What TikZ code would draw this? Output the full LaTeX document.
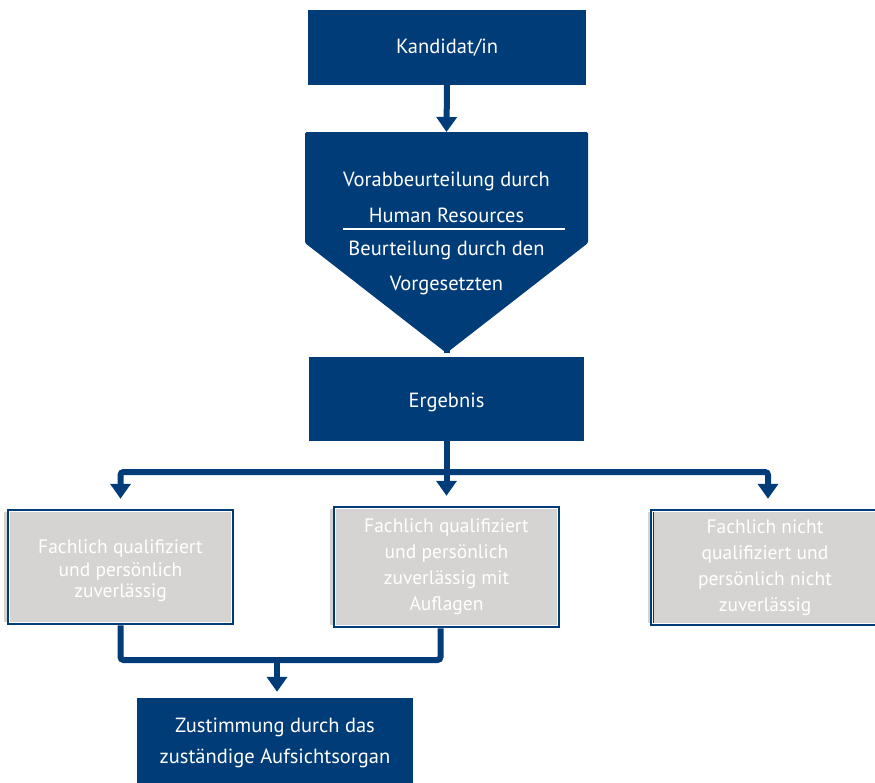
\documentclass[tikz,border=0pt]{standalone}
\usepackage{fontspec}
\setmainfont{PT Sans}
\usetikzlibrary{arrows.meta,calc,backgrounds}
\definecolor{dbblue}{RGB}{0,60,120}
\definecolor{boxgray}{RGB}{214,212,210}

\begin{document}
\begin{tikzpicture}[x=1pt,y=-1pt,
  txt/.style={font=\fontsize{20.5}{25}\selectfont},
  gtxt/.style={font=\fontsize{19.5}{25}\selectfont},
  bluebox/.style={txt, fill=dbblue, text=white, inner sep=0pt, align=center},
  graybox/.style={gtxt, fill=boxgray, draw=dbblue, line width=3.5pt, text=white,
                  inner sep=0pt, align=center},
  graylabel/.style={gtxt, text=white, align=center, inner sep=0pt},
  conn/.style={draw=dbblue, line width=6pt, rounded corners=3pt},
  arr/.style={conn, -{Triangle[width=20pt,length=15pt]}}]

\useasboundingbox (0,0) rectangle (875,782);
\clip (0,0) rectangle (875,782);

% top box
\node[bluebox, minimum width=278pt, minimum height=75pt] (kand) at (447,47.5) {Kandidat/in};

% assessment pentagon
\coordinate (ptop) at (446.5,132);
\coordinate (ptip) at (446.5,353);
\fill[dbblue, rounded corners=1.5pt] (305,132) -- (588,132) -- (588,243) -- (ptip) -- (305,243) -- cycle;
\draw[white, line width=2.5pt] (343,229) -- (565,229);
\node[txt, text=white] (p1) at (446.5,181) {Vorabbeurteilung durch};
\node[txt, text=white] (p2) at (446.5,215) {Human Resources};
\node[txt, text=white] (p3) at (446.5,250) {Beurteilung durch den};
\node[txt, text=white] (p4) at (446.5,285) {Vorgesetzten};

% result
\node[bluebox, minimum width=275pt, minimum height=84pt] (erg) at (446.5,399) {};
\node[txt, text=white] (ergt) at (446.5,402) {Ergebnis};

% outcomes
\node[graybox, minimum width=224pt, minimum height=113pt] (b1) at (120.5,567) {};
\node[graylabel] (b1t) at (120.5,571)
  {Fachlich qualifiziert\\[-2pt]und persönlich\\[-4pt]zuverlässig};
\node[graybox, minimum width=224pt, minimum height=119pt] (b2) at (446.5,567)
  {Fachlich qualifiziert\\[1pt]und persönlich\\[1pt]zuverlässig mit\\[1pt]Auflagen};
\node[graybox, minimum width=226pt, minimum height=114pt] (b3) at (765,567.5)
  {Fachlich nicht\\[1pt]qualifiziert und\\[1pt]persönlich nicht\\[1pt]zuverlässig};

% inner white rule and shadow of the outcome boxes
\foreach \b in {b1,b2,b3}{
  \draw[white, line width=1pt] ($(\b.south west)+(2.5,-2.5)$) rectangle ($(\b.north east)+(-2.5,2.5)$);
  \begin{scope}[on background layer]
    \fill[boxgray] ($(\b.south west)+(-2.5,-3)$) rectangle ($(\b.north east)+(-4,3)$);
  \end{scope}
}

% approval
\node[bluebox, minimum width=276pt, minimum height=90pt] (zust) at (275,743)
  {Zustimmung durch das\\[6pt]zuständige Aufsichtsorgan};

% connectors
\draw[arr] (kand.south) -- (ptop);
\draw[arr, shorten >=4pt] (ptip) -- (erg.north);
\coordinate (split) at (446.5,472);
\draw[conn] (erg.south) -- (split);
\draw[arr, shorten >=10pt] (split) -| (b1.north);
\draw[arr, shorten >=10pt] (split) -- (b2.north);
\draw[arr, shorten >=10pt] (split) -| ($(b3.north)+(3,0)$);
\coordinate (join) at (277,660);
\draw[conn] (b1.south) |- (join) -| ($(b2.south)+(-6,0)$);
\draw[arr, shorten >=6pt] (join) -- (join |- zust.north);
\end{tikzpicture}
\end{document}
